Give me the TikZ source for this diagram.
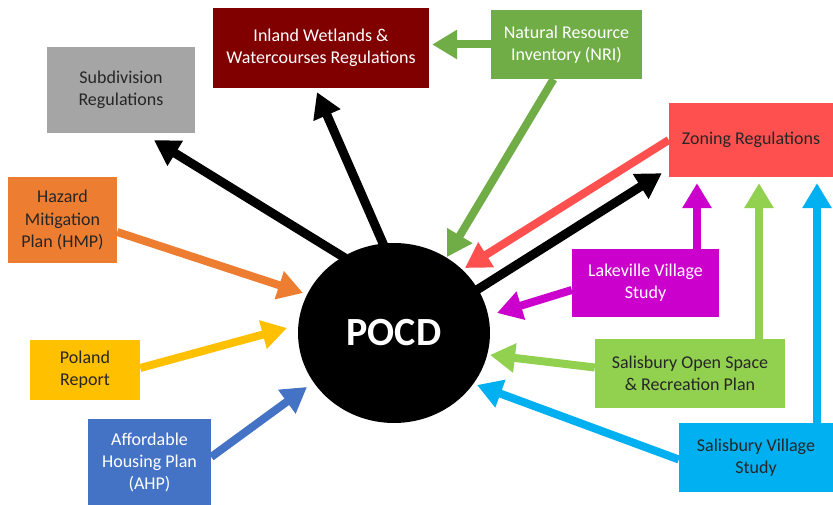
\documentclass[tikz,border=0pt]{standalone}
\usepackage{fontspec}
\setmainfont{Carlito}
\usetikzlibrary{shapes,arrows,arrows.meta,calc,positioning}

\definecolor{subgray}{HTML}{A5A5A5}
\definecolor{inlandred}{HTML}{800000}
\definecolor{nrigreen}{HTML}{70AD47}
\definecolor{zonered}{HTML}{FF5050}
\definecolor{hmporange}{HTML}{ED7D31}
\definecolor{polandgold}{HTML}{FFC000}
\definecolor{ahpblue}{HTML}{4472C4}
\definecolor{lakemagenta}{HTML}{CC00CC}
\definecolor{sosgreen}{HTML}{92D050}
\definecolor{svsblue}{HTML}{00B0F0}

\begin{document}
\begin{tikzpicture}[x=1pt,y=-1pt,
  box/.style={rectangle,inner sep=0pt,align=center,text=black!85,font=\fontsize{18}{22}\selectfont},
  arr/.style={line width=8pt,-{Triangle[width=28pt,length=25pt]}}]
  \useasboundingbox (0,0) rectangle (833,505);

  \node[ellipse,fill=black,inner sep=0pt,minimum width=192pt,minimum height=180pt,text=white,font=\fontsize{40}{48}\selectfont\bfseries] (pocd) at (394,333) {POCD};

  \node[box,fill=subgray,minimum width=148pt,minimum height=86pt] (subdiv) at (121,90) {Subdivision\\Regulations};
  \node[box,fill=inlandred,text=white,minimum width=216pt,minimum height=80pt] (inland) at (321,48) {Inland Wetlands \&\\Watercourses Regulations};
  \node[box,fill=nrigreen,text=white,minimum width=151pt,minimum height=69pt] (nri) at (566.5,44.5) {Natural Resource\\Inventory (NRI)};
  \node[box,fill=zonered,minimum width=164pt,minimum height=74pt] (zoning) at (751,140) {Zoning Regulations};
  \node[box,fill=hmporange,minimum width=109pt,minimum height=86pt] (hmp) at (62.5,220) {Hazard\\Mitigation\\Plan (HMP)};
  \node[box,fill=polandgold,minimum width=110pt,minimum height=60pt] (poland) at (85,370) {Poland\\Report};
  \node[box,fill=ahpblue,text=white,minimum width=123pt,minimum height=86pt] (ahp) at (149.5,462) {Affordable\\Housing Plan\\(AHP)};
  \node[box,fill=lakemagenta,text=white,minimum width=147pt,minimum height=68pt] (lake) at (645.5,283) {Lakeville Village\\Study};
  \node[box,fill=sosgreen,minimum width=190pt,minimum height=69pt] (sos) at (690,373.5) {Salisbury Open Space\\\& Recreation Plan};
  \node[box,fill=svsblue,minimum width=154pt,minimum height=69pt] (svs) at (756,457.5) {Salisbury Village\\Study};

  \draw[arr,line width=9pt] ($(pocd)+(-49,-75)$) -- ($(subdiv.south)+(33,7)$);
  \draw[arr,line width=9pt] ($(pocd)+(-9,-85)$) -- ($(inland.south)+(-4,4)$);
  \draw[arr,line width=9pt] ($(pocd)+(78,-40)$) -- ($(zoning.south west)+(-7,-4)$);

  \draw[arr,nrigreen] (nri.west) -- ([xshift=3pt]nri.west -| inland.east);
  \draw[arr,nrigreen] ($(nri.south)+(-13,0)$) -- ($(pocd)+(53,-76)$);
  \draw[arr,zonered] (zoning.west) -- ($(pocd)+(71,-65)$);
  \draw[arr,hmporange] ($(hmp.east)+(0,12)$) -- ($(pocd)+(-91,-40)$);
  \draw[arr,polandgold] ($(poland.east)+(0,-2)$) -- ($(pocd)+(-107,-5)$);
  \draw[arr,ahpblue] ($(ahp.east)+(0,-5)$) -- ($(pocd)+(-87,54)$);
  \draw[arr,lakemagenta] ($(lake.west)+(0,7)$) -- ($(pocd)+(103,-20)$);
  \draw[arr,lakemagenta] ([xshift=51.5pt]lake.north) -- ([xshift=51.5pt,yshift=-6pt]lake.north |- zoning.south);
  \draw[arr,sosgreen] ($(sos.west)+(0,-6)$) -- ($(pocd)+(96,22)$);
  \draw[arr,sosgreen] ([xshift=69pt]sos.north) -- ([xshift=69pt,yshift=-6pt]sos.north |- zoning.south);
  \draw[arr,svsblue] ($(svs.west)+(0,2)$) -- ($(pocd)+(83,52)$);
  \draw[arr,svsblue] ([xshift=61pt]svs.north) -- ([xshift=61pt,yshift=-6pt]svs.north |- zoning.south);

\end{tikzpicture}
\end{document}
